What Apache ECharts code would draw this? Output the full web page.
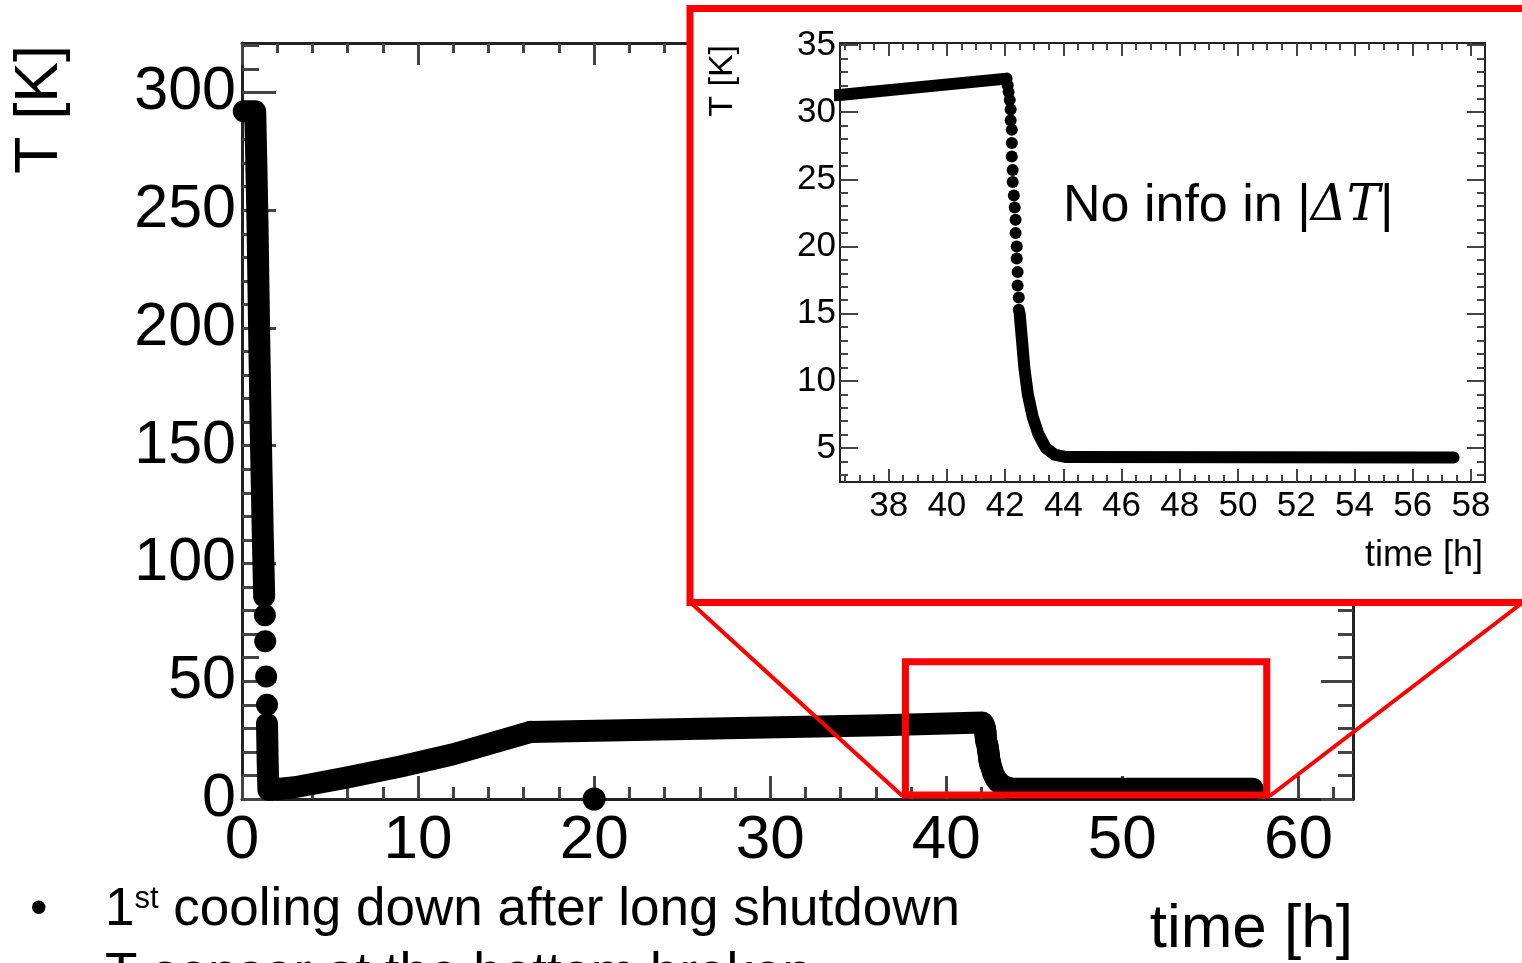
<!DOCTYPE html>
<html><head><meta charset="utf-8">
<script src="https://cdn.jsdelivr.net/npm/echarts@6/dist/echarts.min.js"></script>
<style>html,body{margin:0;padding:0;background:#fff}#c{width:1522px;height:963px}</style>
</head><body><div id="c"></div>
<script>
// ---------------- data (time [h], temperature [K]) ----------------
const warmTime   = [0.1, 0.75, 0.8, 0.88, 0.98, 1.08, 1.18, 1.26];
const warmTemp   = [292, 292, 275, 245, 195, 150, 112, 86];
const sparseTime = [1.3, 1.32, 1.37, 1.42];
const sparseTemp = [78, 67, 52, 40];
const rampTime   = [1.42, 1.46, 1.5, 3, 6, 9, 12, 16.4];
const rampTemp   = [32, 15, 3.8, 5, 9.2, 13.8, 19, 28.5];
const plateauTime = [16.4, 36.4, 42.05];
const plateauTemp = [28.5, 31.3, 32.5];
const dropTime = [42.09, 42.12, 42.16, 42.19, 42.19, 42.23, 42.23, 42.23, 42.26, 42.26, 42.3, 42.33, 42.36, 42.36, 42.4, 42.4, 42.43, 42.43, 42.47, 42.47];
const dropTemp = [32.0, 31.5, 30.9, 30.2, 29.4, 28.7, 27.7, 26.7, 25.7, 24.8, 23.8, 22.9, 22.0, 21.0, 20.0, 19.1, 18.1, 17.1, 16.2, 15.3];
const tailTime = [42.5, 42.58, 42.66, 42.78, 42.95, 43.15, 43.4, 43.7, 44.1, 57.4];
const tailTemp = [15.0, 13.0, 11.0, 9.0, 7.3, 6.0, 5.0, 4.5, 4.33, 4.3];
const outlierTime = [20];
const outlierTemp = [0];

// ---------------- tick labels ----------------
const mainXLabels = [0, 10, 20, 30, 40, 50, 60];
const mainYLabels = [0, 50, 100, 150, 200, 250, 300];
const insetXLabels = [38, 40, 42, 44, 46, 48, 50, 52, 54, 56, 58];
const insetYLabels = [5, 10, 15, 20, 25, 30, 35];

function steps(a, b, s) { const r = []; for (let v = a; v <= b + 1e-9; v += s) r.push(+v.toFixed(3)); return r; }
const mainXMinor = steps(0, 62, 2);
const mainYMinor = steps(0, 320, 10);
const insetXMinor = steps(36.5, 58, 0.5);
const insetYMinor = steps(3, 35, 1);

function pairs(t, v) { return t.map((x, i) => [x, v[i]]); }

const FONT = "'Liberation Sans', Arial, sans-serif";
const MAIN = { xmin: 0, xmax: 63.1, ymin: 0, ymax: 321 };
const INS = { xmin: 36.33, xmax: 58.48, ymin: 2.47, ymax: 35.15 };

function axis(o) {
  return {
    type: 'value', gridIndex: o.grid, position: o.pos, min: o.min, max: o.max,
    z: o.z, silent: true, splitLine: { show: false },
    axisLine: { show: !!o.line, onZero: false, lineStyle: { color: '#222', width: o.lw } },
    axisTick: { show: true, inside: true, length: o.len, customValues: o.ticks,
                lineStyle: { color: '#444', width: o.tw } },
    axisLabel: o.labels ? { show: true, customValues: o.labels, margin: o.margin,
                fontFamily: FONT, fontSize: o.fs, color: '#000' } : { show: false }
  };
}

const xAxes = [
  axis({grid:0,pos:'bottom',min:MAIN.xmin,max:MAIN.xmax,z:1,line:1,lw:3,len:23,tw:3,ticks:mainXLabels,labels:mainXLabels,margin:11,fs:62}),
  axis({grid:0,pos:'bottom',min:MAIN.xmin,max:MAIN.xmax,z:1,len:12,tw:3,ticks:mainXMinor}),
  axis({grid:0,pos:'top',min:MAIN.xmin,max:MAIN.xmax,z:1,line:1,lw:3,len:22,tw:3,ticks:mainXLabels}),
  axis({grid:0,pos:'top',min:MAIN.xmin,max:MAIN.xmax,z:1,len:10,tw:3,ticks:mainXMinor}),
  axis({grid:1,pos:'bottom',min:INS.xmin,max:INS.xmax,z:60,line:1,lw:2,len:13,tw:2,ticks:insetXLabels,labels:insetXLabels,margin:7,fs:35}),
  axis({grid:1,pos:'bottom',min:INS.xmin,max:INS.xmax,z:60,len:7,tw:2,ticks:insetXMinor}),
  axis({grid:1,pos:'top',min:INS.xmin,max:INS.xmax,z:60,line:1,lw:2,len:13,tw:2,ticks:insetXLabels}),
  axis({grid:1,pos:'top',min:INS.xmin,max:INS.xmax,z:60,len:7,tw:2,ticks:insetXMinor})
];
const yAxes = [
  axis({grid:0,pos:'left',min:MAIN.ymin,max:MAIN.ymax,z:1,line:1,lw:3,len:34,tw:3,ticks:mainYLabels,labels:mainYLabels,margin:6,fs:61}),
  axis({grid:0,pos:'left',min:MAIN.ymin,max:MAIN.ymax,z:1,len:17,tw:3,ticks:mainYMinor}),
  axis({grid:0,pos:'right',min:MAIN.ymin,max:MAIN.ymax,z:1,line:1,lw:3,len:32,tw:3,ticks:mainYLabels}),
  axis({grid:0,pos:'right',min:MAIN.ymin,max:MAIN.ymax,z:1,len:15,tw:3,ticks:mainYMinor}),
  axis({grid:1,pos:'left',min:INS.ymin,max:INS.ymax,z:60,line:1,lw:2,len:18,tw:2,ticks:insetYLabels,labels:insetYLabels,margin:4,fs:35}),
  axis({grid:1,pos:'left',min:INS.ymin,max:INS.ymax,z:60,len:8,tw:2,ticks:insetYMinor}),
  axis({grid:1,pos:'right',min:INS.ymin,max:INS.ymax,z:60,line:1,lw:2,len:18,tw:2,ticks:insetYLabels}),
  axis({grid:1,pos:'right',min:INS.ymin,max:INS.ymax,z:60,len:8,tw:2,ticks:insetYMinor})
];

function band(data, g, w, z, clip) {
  return { type: 'line', data, xAxisIndex: g ? 4 : 0, yAxisIndex: g ? 4 : 0, z, clip,
    showSymbol: false, symbol: 'none', silent: true, animation: false,
    lineStyle: { color: '#000', width: w, opacity: 1, cap: 'round', join: 'round' } };
}
function dots(data, g, s, z) {
  return { type: 'scatter', data, xAxisIndex: g ? 4 : 0, yAxisIndex: g ? 4 : 0, z, clip: false,
    symbol: 'circle', symbolSize: s, silent: true, animation: false,
    itemStyle: { color: '#000', opacity: 1 } };
}

const series = [
  band(pairs(warmTime, warmTemp), 0, 22, 2, false),
  dots(pairs(sparseTime, sparseTemp), 0, 22, 2),
  band(pairs(rampTime, rampTemp), 0, 22, 2, false),
  band(pairs(plateauTime, plateauTemp), 0, 22, 2, false),
  dots(pairs(dropTime, dropTemp), 0, 22, 2),
  band(pairs(tailTime, tailTemp), 0, 22, 2, false),
  dots(pairs(outlierTime, outlierTemp), 0, 23, 2),
  band(pairs(plateauTime, plateauTemp), 1, 12, 70, true),
  dots(pairs(dropTime, dropTemp), 1, 12, 70),
  band(pairs(tailTime, tailTemp), 1, 12, 70, false)
];

const chart = echarts.init(document.getElementById('c'), null, { renderer: 'canvas' });
chart.setOption({
  animation: false,
  backgroundColor: '#fff',
  grid: [
    { left: 242, top: 43, width: 1111, height: 756, containLabel: false },
    { left: 840, top: 43, width: 645, height: 439, containLabel: false }
  ],
  xAxis: xAxes,
  yAxis: yAxes,
  series
});

// zoom box (data coords of the highlighted region) and its connection to the inset
const boxLo = chart.convertToPixel({ xAxisIndex: 0, yAxisIndex: 0 }, [37.68, 1.7]);
const boxHi = chart.convertToPixel({ xAxisIndex: 0, yAxisIndex: 0 }, [58.2, 58.3]);

chart.setOption({
  graphic: [
    { type: 'rect', z: 50, silent: true,
      shape: { x: 690, y: 8.5, width: 860, height: 594 },
      style: { fill: '#fff', stroke: '#ff0000', lineWidth: 7 } },
    { type: 'rect', z: 40, silent: true,
      shape: { x: boxLo[0], y: boxHi[1], width: boxHi[0] - boxLo[0], height: boxLo[1] - boxHi[1] },
      style: { fill: 'none', stroke: '#ff0000', lineWidth: 7 } },
    { type: 'line', z: 40, silent: true,
      shape: { x1: boxLo[0] - 3, y1: boxLo[1] + 1, x2: 690, y2: 602 },
      style: { stroke: '#ff0000', lineWidth: 4 } },
    { type: 'line', z: 40, silent: true,
      shape: { x1: boxHi[0] + 3, y1: boxLo[1] + 1, x2: 1522, y2: 603 },
      style: { stroke: '#ff0000', lineWidth: 4 } },
    { type: 'text', z: 80, silent: true, x: 40, y: 45, rotation: Math.PI / 2,
      style: { text: 'T [K]', fontFamily: FONT, fontSize: 61, fill: '#000', align: 'right', verticalAlign: 'middle' } },
    { type: 'text', z: 80, silent: true, x: 1353, y: 930,
      style: { text: 'time [h]', fontFamily: FONT, fontSize: 62, fill: '#000', align: 'right', verticalAlign: 'middle' } },
    { type: 'text', z: 80, silent: true, x: 723, y: 45, rotation: Math.PI / 2,
      style: { text: 'T [K]', fontFamily: FONT, fontSize: 34, fill: '#000', align: 'right', verticalAlign: 'middle' } },
    { type: 'text', z: 80, silent: true, x: 1483, y: 556,
      style: { text: 'time [h]', fontFamily: FONT, fontSize: 36, fill: '#000', align: 'right', verticalAlign: 'middle' } },
    { type: 'text', z: 80, silent: true, x: 1063, y: 207,
      style: { text: '{a|No info in |}{m|ΔT}{a||}', verticalAlign: 'middle', align: 'left',
        rich: { a: { fontFamily: FONT, fontSize: 52, fill: '#000' },
                m: { fontFamily: "'DejaVu Serif', 'Liberation Serif', serif", fontStyle: 'italic', fontSize: 50, fill: '#000' } } } },
    { type: 'text', z: 80, silent: true, x: 30, y: 910,
      style: { text: '•', fontFamily: FONT, fontSize: 50, fill: '#000', align: 'left', verticalAlign: 'middle' } },
    { type: 'text', z: 80, silent: true, x: 105, y: 910,
      style: { text: '{n|1}{s|st}{n| cooling down after long shutdown}', align: 'left', verticalAlign: 'middle',
        rich: { n: { fontFamily: FONT, fontSize: 53, fill: '#000' },
                s: { fontFamily: FONT, fontSize: 31, fill: '#000', verticalAlign: 'top' } } } },
    { type: 'text', z: 80, silent: true, x: 105, y: 975,
      style: { text: 'T sensor at the bottom broken', fontFamily: FONT, fontSize: 53, fill: '#000', align: 'left', verticalAlign: 'middle' } }
  ]
});
</script>
</body></html>
